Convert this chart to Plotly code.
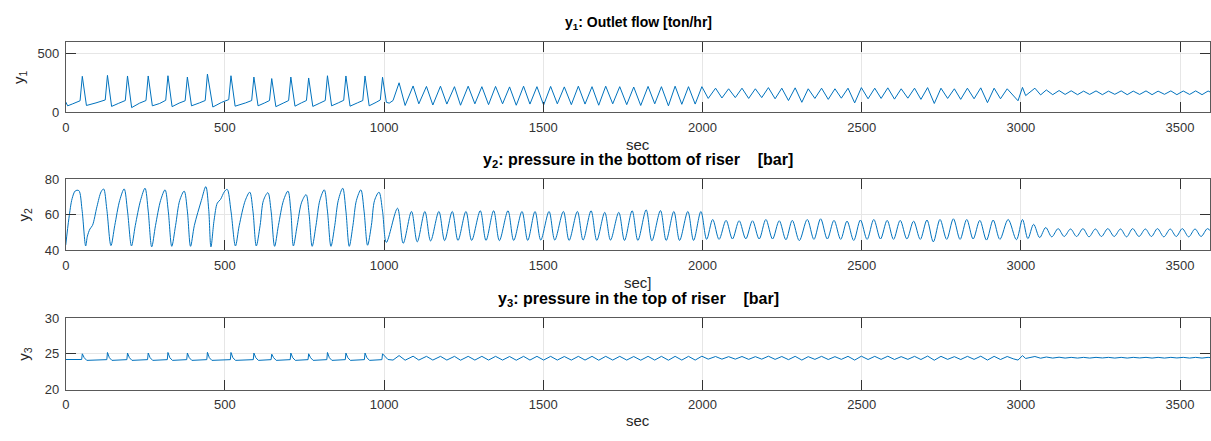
import plotly.graph_objects as go

# ---------------- data ----------------
# y1: outlet flow [ton/hr] -- vertices (time [s], value)
Y1_T_A = [0, 6, 22, 45, 52,
          65, 95, 124, 131,
          144, 165, 187, 194,
          207, 232, 252, 259,
          272, 295, 314, 321,
          334, 356, 375, 382,
          395, 420, 438, 445,
          462, 490, 512, 519,
          532, 565, 584, 591,
          604, 625, 640, 647,
          660, 683, 700, 707,
          720, 740, 756, 763,
          776, 798, 815, 822,
          835, 856, 873, 880,
          893, 916, 933, 940,
          953, 975, 988, 995]
Y1_V_A = [88, 55, 72, 98, 306,
          58, 80, 105, 314,
          50, 75, 100, 309,
          40, 78, 100, 309,
          55, 75, 102, 311,
          48, 78, 98, 300,
          55, 80, 100, 325,
          45, 85, 108, 311,
          52, 80, 100, 300,
          55, 80, 100, 287,
          48, 78, 100, 300,
          52, 80, 100, 292,
          50, 78, 100, 311,
          55, 80, 102, 309,
          52, 80, 100, 309,
          55, 85, 105, 298]
Y1_T_B = [1007, 1016, 1028, 1047, 1066, 1091, 1109, 1133, 1153, 1177, 1197, 1221,
          1240, 1264, 1285, 1307, 1328, 1350, 1372, 1394, 1415, 1438, 1458, 1480,
          1501, 1523, 1544, 1566, 1588, 1610, 1631, 1653, 1674, 1696, 1718, 1740,
          1762, 1784, 1806, 1829, 1850, 1871, 1893, 1914, 1935, 1956, 1977]
Y1_V_B = [85, 78, 100, 251, 58, 224, 72, 220, 62, 222, 70, 218,
          60, 222, 72, 218, 65, 220, 72, 216, 60, 222, 70, 218,
          62, 220, 72, 216, 65, 222, 70, 218, 60, 222, 72, 218,
          65, 215, 58, 220, 72, 218, 55, 222, 68, 218, 70]
Y1_T_C = [1998, 2018, 2041, 2061, 2082, 2103, 2124, 2145, 2166, 2186, 2207, 2228,
          2249, 2270, 2291, 2312, 2332, 2353, 2374, 2395, 2416, 2436, 2457, 2478,
          2499, 2520, 2541, 2561, 2582, 2603, 2624, 2645, 2666, 2686, 2707, 2728,
          2749, 2770, 2791, 2811, 2832, 2853, 2874, 2895, 2916, 2936, 2957, 2976, 2991]
Y1_V_C = [218, 118, 205, 122, 200, 125, 205, 118, 200, 125, 210, 115,
          205, 100, 208, 85, 200, 118, 205, 110, 200, 120, 205, 80,
          210, 115, 205, 118, 208, 112, 200, 120, 205, 110, 210, 75,
          205, 118, 200, 110, 205, 115, 208, 82, 205, 115, 200, 140, 98]
Y1_T_D = [3005, 3015, 3044, 3062, 3080, 3100, 3120, 3139, 3158, 3178, 3197, 3216,
          3236, 3256, 3275, 3295, 3315, 3334, 3353, 3373, 3393, 3412, 3431, 3451,
          3471, 3490, 3510, 3530, 3549, 3569, 3588, 3600]
Y1_V_D = [212, 142, 205, 148, 190, 150, 185, 152, 183, 150, 180, 152,
          182, 150, 180, 153, 182, 150, 180, 152, 182, 150, 180, 153,
          182, 150, 181, 152, 182, 150, 181, 165]

# y2: pressure in the bottom of riser [bar]
Y2_T_A = [0, 10, 20, 30, 41, 51, 62.6,
          68, 76, 84, 98, 111, 119, 129, 142,
          154, 169.5, 183.5, 194, 206.5,
          218.5, 235, 249, 259, 270,
          282, 298, 312, 322, 333,
          345, 358, 372, 382, 392,
          404, 426, 440, 449, 456,
          466, 476, 486, 498, 507, 519, 533,
          545, 564, 578, 588, 598.5,
          610.5, 621, 635, 645, 656,
          668, 684, 698, 707, 715,
          727, 741, 755, 764, 774,
          786, 798, 812, 822, 833,
          845, 856, 870, 880, 890.5,
          902, 913, 927, 937, 948,
          960, 970, 984, 995, 1007]
Y2_V_A = [43, 58, 69, 73.3, 73.5, 63, 42.5,
          48, 52, 54, 64.5, 72.8, 74.4, 63, 42.7,
          54, 68, 74.4, 62, 42.5,
          54, 68, 74.8, 62, 42.0,
          54, 68, 73.9, 62, 42.3,
          54, 68, 73.2, 62, 42.3,
          54, 68, 75.7, 63, 42.0,
          57, 66.5, 68.5, 72.8, 74.2, 62, 42.5,
          54, 68, 72.6, 62, 42.5,
          54, 68, 72.3, 62, 42.3,
          54, 68, 73.2, 62, 42.5,
          54, 67, 71.2, 61, 42.3,
          54, 68, 73.9, 62, 42.3,
          54, 68, 74.8, 62, 42.3,
          54, 68, 73.9, 62, 42.9,
          54, 68, 72.6, 62, 44.5]
Y2_T_B = [1042, 1060, 1086, 1104, 1128, 1146, 1172, 1190, 1214, 1232, 1257, 1275,
          1302, 1320, 1344, 1362, 1389, 1407, 1433, 1451, 1474, 1492, 1518, 1536,
          1563, 1581, 1607, 1625, 1650, 1668, 1693, 1711, 1737, 1755, 1779, 1797,
          1823, 1841, 1868, 1886, 1910, 1928, 1954, 1972, 1995, 2013]
Y2_V_B = [63.6, 44.0, 61.8, 44.8, 61.8, 45.3, 61.8, 45.5, 61.8, 45.6, 61.8, 45.6,
          62.2, 45.6, 62.2, 45.5, 62.2, 45.6, 61.8, 45.6, 61.8, 45.8, 61.8, 45.8,
          61.8, 45.6, 61.8, 45.8, 62.2, 45.6, 61.3, 45.8, 61.3, 45.6, 62.2, 45.6,
          62.7, 45.4, 62.3, 45.6, 61.8, 45.6, 61.8, 45.6, 61.8, 46.2]
Y2_T_C = [2032, 2052, 2074, 2094, 2115, 2136, 2157, 2178, 2199, 2220, 2241, 2262,
          2282, 2304, 2329, 2350, 2371, 2392, 2413, 2434, 2454, 2475, 2496, 2517,
          2538, 2559, 2580, 2600, 2621, 2642, 2663, 2684, 2705, 2725, 2746, 2767,
          2788, 2809, 2830, 2850, 2871, 2892, 2913, 2934, 2960, 2986]
Y2_V_C = [57.3, 46.2, 56.8, 46.4, 56.6, 46.5, 56.6, 46.4, 57.3, 46.4, 56.6, 46.0,
          56.8, 45.5, 57.3, 46.2, 57.7, 46.4, 56.8, 46.2, 56.4, 45.6, 57.0, 46.2,
          57.3, 46.4, 56.8, 46.2, 56.8, 46.4, 56.4, 46.2, 57.0, 44.8, 57.3, 46.2,
          57.7, 46.2, 57.3, 46.4, 56.8, 45.8, 57.0, 46.2, 57.3, 46.0]
Y2_T_D = [3005, 3022, 3040, 3059, 3078, 3097, 3117, 3136, 3156, 3175, 3195, 3214,
          3234, 3253, 3273, 3293, 3313, 3332, 3351, 3371, 3391, 3410, 3429, 3449,
          3469, 3488, 3507, 3527, 3547, 3566, 3586, 3600]
Y2_V_D = [57.3, 46.6, 54.6, 47.2, 52.8, 47.6, 52.2, 47.8, 52.0, 47.8, 52.2, 47.6,
          52.0, 47.8, 52.2, 47.8, 52.0, 47.6, 52.2, 47.8, 52.0, 47.8, 52.2, 47.6,
          52.0, 47.8, 52.2, 47.6, 52.0, 47.8, 52.2, 50.0]

# y3: pressure in the top of riser [bar]
Y3_T_A = [0, 50, 52, 58, 66,
          129, 131, 137, 145,
          192, 194, 200, 208,
          257, 259, 265, 273,
          319, 321, 327, 335,
          380, 382, 388, 396,
          443, 445, 451, 459,
          517, 519, 525, 533,
          589, 591, 597, 605,
          645, 647, 653, 661,
          705, 707, 713, 721,
          761, 763, 769, 777,
          820, 822, 828, 836,
          878, 880, 886, 894,
          938, 940, 946, 954,
          993, 995]
Y3_V_A = [24.2, 24.2, 25.0, 24.45, 24.08,
          24.18, 25.18, 24.45, 24.08,
          24.18, 25.1, 24.45, 24.08,
          24.18, 25.1, 24.45, 24.08,
          24.18, 25.18, 24.45, 24.08,
          24.18, 25.1, 24.45, 24.08,
          24.18, 25.2, 24.45, 24.08,
          24.18, 25.18, 24.45, 24.08,
          24.18, 25.1, 24.45, 24.08,
          24.18, 24.95, 24.45, 24.08,
          24.18, 25.1, 24.45, 24.08,
          24.18, 25.0, 24.45, 24.08,
          24.18, 25.18, 24.45, 24.08,
          24.18, 25.1, 24.45, 24.08,
          24.18, 25.1, 24.45, 24.08,
          24.18, 25.0]
Y3_T_B = [1003, 1012, 1028, 1047, 1066, 1091, 1109, 1133, 1153, 1177, 1197, 1221,
          1240, 1264, 1285, 1307, 1328, 1350, 1372, 1394, 1415, 1438, 1458, 1480,
          1501, 1523, 1544, 1566, 1588, 1610, 1631, 1653, 1674, 1696, 1718, 1740,
          1762, 1784, 1806, 1829, 1850, 1871, 1893, 1914, 1935, 1956, 1977]
Y3_V_B = [24.55, 24.2, 24.12, 24.75, 24.1, 24.66, 24.12, 24.64, 24.12, 24.64, 24.12, 24.64,
          24.1, 24.64, 24.12, 24.64, 24.12, 24.64, 24.12, 24.62, 24.1, 24.64, 24.12, 24.64,
          24.12, 24.64, 24.12, 24.62, 24.12, 24.64, 24.12, 24.64, 24.1, 24.64, 24.12, 24.64,
          24.12, 24.62, 24.1, 24.64, 24.12, 24.64, 24.1, 24.64, 24.12, 24.64, 24.12]
Y3_T_C = [1998, 2018, 2041, 2061, 2082, 2103, 2124, 2145, 2166, 2186, 2207, 2228,
          2249, 2270, 2291, 2312, 2332, 2353, 2374, 2395, 2416, 2436, 2457, 2478,
          2499, 2520, 2541, 2561, 2582, 2603, 2624, 2645, 2666, 2686, 2707, 2728,
          2749, 2770, 2791, 2811, 2832, 2853, 2874, 2895, 2916, 2936, 2957, 2976, 2991]
Y3_V_C = [24.66, 24.25, 24.62, 24.25, 24.6, 24.25, 24.62, 24.22, 24.6, 24.25, 24.66, 24.22,
          24.62, 24.18, 24.64, 24.12, 24.6, 24.22, 24.64, 24.2, 24.6, 24.22, 24.64, 24.12,
          24.66, 24.2, 24.64, 24.22, 24.66, 24.2, 24.6, 24.22, 24.64, 24.2, 24.68, 24.1,
          24.64, 24.22, 24.6, 24.2, 24.64, 24.22, 24.66, 24.12, 24.64, 24.2, 24.62, 24.3, 24.12]
Y3_T_D = [3005, 3015, 3044, 3062, 3080, 3100, 3120, 3139, 3158, 3178, 3197, 3216,
          3236, 3256, 3275, 3295, 3315, 3334, 3353, 3373, 3393, 3412, 3431, 3451,
          3471, 3490, 3510, 3530, 3549, 3569, 3588, 3600]
Y3_V_D = [24.74, 24.35, 24.62, 24.38, 24.55, 24.4, 24.52, 24.4, 24.5, 24.4, 24.5, 24.4,
          24.5, 24.42, 24.5, 24.4, 24.5, 24.4, 24.5, 24.42, 24.5, 24.4, 24.5, 24.4,
          24.5, 24.42, 24.5, 24.4, 24.5, 24.4, 24.5, 24.45]

X_TICKS = [0, 500, 1000, 1500, 2000, 2500, 3000, 3500]
Y1_TICKS = [0, 500]
Y2_TICKS = [40, 60, 80]
Y3_TICKS = [20, 25, 30]

TITLES = ["y<sub>1</sub>: Outlet flow [ton/hr]",
          "y<sub>2</sub>: pressure in the bottom of riser\u00a0\u00a0\u00a0 [bar]",
          "y<sub>3</sub>: pressure in the top of riser\u00a0\u00a0\u00a0 [bar]"]
XLABELS = ["sec", "sec]", "sec"]
YLABELS = ["y<sub>1</sub>", "y<sub>2</sub>", "y<sub>3</sub>"]

# ---------------- figure ----------------
W, H = 1211, 441
FONT = "Liberation Sans, Arial, Helvetica, sans-serif"
LINE = "#0072BD"


def fy(px):
    return 1 - px / H


def fx(px):
    return px / W


fig = go.Figure()
series = [
    (Y1_T_A + Y1_T_B + Y1_T_C + Y1_T_D, Y1_V_A + Y1_V_B + Y1_V_C + Y1_V_D, "linear"),
    (Y2_T_A + Y2_T_B + Y2_T_C + Y2_T_D, Y2_V_A + Y2_V_B + Y2_V_C + Y2_V_D, "spline"),
    (Y3_T_A + Y3_T_B + Y3_T_C + Y3_T_D, Y3_V_A + Y3_V_B + Y3_V_C + Y3_V_D, "linear"),
]
for i, (t, v, shape) in enumerate(series):
    n = "" if i == 0 else str(i + 1)
    line = dict(color=LINE, width=1.0, shape=shape)
    if shape == "spline":
        line["smoothing"] = 0.9
    fig.add_trace(go.Scatter(x=t, y=v, mode="lines", line=line,
                             xaxis="x" + n, yaxis="y" + n, showlegend=False,
                             hoverinfo="skip"))

# axes pixel boxes (top, bottom)
boxes = [(36, 109), (178, 252), (322, 396)]
yranges = [[0, 600], [40, 80], [20, 30]]
yticks = [Y1_TICKS, Y2_TICKS, Y3_TICKS]

axis_common = dict(showline=True, linecolor="#595959", linewidth=1,
                   mirror="ticks", ticks="inside", ticklen=10, tickwidth=1,
                   tickcolor="#333333", showgrid=True, gridcolor="#e6e6e6",
                   gridwidth=1, zeroline=False,
                   tickfont=dict(family=FONT, size=13, color="#333333"))

layout = dict(width=W, height=H, margin=dict(l=0, r=0, t=0, b=0),
              paper_bgcolor="white", plot_bgcolor="white", showlegend=False,
              font=dict(family=FONT, color="#262626"))
for i in range(3):
    n = "" if i == 0 else str(i + 1)
    top, bot = boxes[i]
    layout["xaxis" + n] = dict(axis_common, domain=[fx(62), 1.0], range=[0, 3594],
                              tickvals=X_TICKS, anchor="y" + n,
                              ticklabelstandoff=3)
    layout["yaxis" + n] = dict(axis_common, domain=[fy(bot), fy(top)],
                              range=yranges[i], tickvals=yticks[i], anchor="x" + n,
                              ticklabelstandoff=3)

annotations = []
title_y = [17, 159, 303]
title_size = [14, 16, 16]
xlabel_y = [142, 285, 428]
ylabel_x = [15, 21, 21]
for i in range(3):
    top, bot = boxes[i]
    annotations.append(dict(text="<b>" + TITLES[i] + "</b>", x=fx(637), y=fy(title_y[i]),
                            xref="paper", yref="paper", xanchor="center", yanchor="middle",
                            showarrow=False,
                            font=dict(family=FONT, size=title_size[i], color="#000000")))
    annotations.append(dict(text=XLABELS[i], x=fx(637), y=fy(xlabel_y[i]),
                            xref="paper", yref="paper", xanchor="center", yanchor="middle",
                            showarrow=False, font=dict(family=FONT, size=15, color="#262626")))
    annotations.append(dict(text=YLABELS[i], x=fx(ylabel_x[i]), y=fy((top + bot) / 2),
                            xref="paper", yref="paper", xanchor="center", yanchor="middle",
                            textangle=-90, showarrow=False,
                            font=dict(family=FONT, size=15, color="#262626")))
layout["annotations"] = annotations

fig.update_layout(**layout)
fig.write_html("out.html")
